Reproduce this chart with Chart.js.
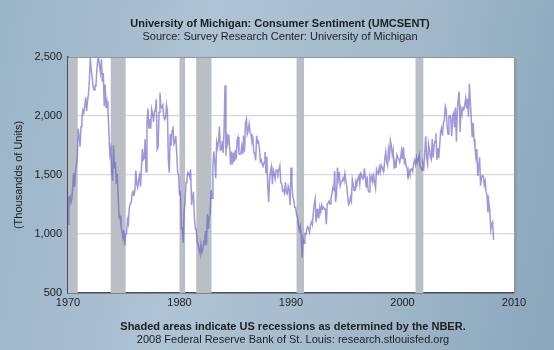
<!DOCTYPE html>
<html>
<head>
<meta charset="utf-8">
<script src="https://cdn.jsdelivr.net/npm/chart.js@4.4.1/dist/chart.umd.min.js"></script>
<style>
  html, body { margin: 0; padding: 0; }
  body {
    width: 554px; height: 350px; overflow: hidden;
    background: linear-gradient(100deg, #9ab4c8 0%, #aec3d3 35%, #a4bbcc 65%, #8aa6bc 100%);
  }
  #wrap { position: relative; width: 554px; height: 350px; }
</style>
</head>
<body>
<div id="wrap"><canvas id="chart" width="554" height="350"></canvas></div>
<script>
// texts
const TITLE = 'University of Michigan: Consumer Sentiment (UMCSENT)';
const SUBTITLE = 'Source: Survey Research Center: University of Michigan';
const Y_TITLE = '(Thousandds of Units)';
const NOTE = 'Shaded areas indicate US recessions as determined by the NBER.';
const CREDIT = '2008 Federal Reserve Bank of St. Louis: research.stlouisfed.org';

// axes
const X_TICKS = [1970, 1980, 1990, 2000, 2010];
const Y_TICKS = [500, 1000, 1500, 2000, 2500];

// recessions (decimal years)
const recessions = [
  [1969.92, 1970.87], [1973.83, 1975.17], [1980.0, 1980.5],
  [1981.5, 1982.87], [1990.5, 1991.17], [2001.17, 2001.87]
];

// monthly values, thousands of units, from Jan 1970
const START_YEAR = 1970;
const v1970s = [
  1085, 1305, 1319, 1264, 1290, 1385, 1517, 1399, 1534, 1580, 1647, 1893,
  1828, 1741, 1910, 1986, 2049, 2026, 2083, 2158, 2041, 2128, 2182, 2295,
  2494, 2390, 2334, 2249, 2221, 2254, 2252, 2382, 2481, 2485, 2421, 2366,
  2481, 2289, 2365, 2084, 2266, 2067, 2123, 2051, 1874, 1677, 1724, 1526,
  1451, 1752, 1555, 1607, 1426, 1513, 1316, 1142, 1150, 1070, 1026, 975,
  1032, 904, 993, 1005, 1121, 1087, 1226, 1260, 1264, 1344, 1360, 1321,
  1367, 1538, 1421, 1395, 1459, 1495, 1401, 1550, 1720, 1629, 1641, 1804,
  1527, 1943, 2063, 1892, 1971, 1893, 2058, 2020, 1949, 2042, 2042, 2142,
  1718, 1738, 2032, 2197, 2075, 2070, 2092, 1996, 1970, 1981, 2094, 2044,
  1630, 1520, 1847, 1748, 1876, 1913, 1760, 1778, 1832, 1681, 1524, 1498
];
const v1980s = [
  1341, 1350, 1047, 1051, 927, 1196, 1269, 1436, 1471, 1523, 1510, 1482,
  1547, 1246, 1306, 1360, 1140, 1045, 1041, 940, 911, 873, 837, 910,
  843, 866, 931, 917, 1025, 902, 1166, 1046, 1144, 1173, 1372, 1303,
  1586, 1699, 1606, 1472, 1776, 1733, 1785, 1910, 1710, 1715, 1785, 1688,
  1897, 2260, 1663, 1851, 1774, 1843, 1732, 1586, 1698, 1590, 1689, 1612,
  1711, 1632, 1800, 1821, 1680, 1676, 1684, 1743, 1676, 1834, 1698, 1942,
  1972, 1848, 1876, 1933, 1854, 1847, 1782, 1807, 1687, 1681, 1623, 1833,
  1774, 1784, 1726, 1614, 1628, 1594, 1575, 1605, 1695, 1515, 1656, 1400,
  1271, 1473, 1532, 1573, 1421, 1541, 1509, 1468, 1542, 1542, 1514, 1548,
  1580, 1435, 1427, 1365, 1373, 1346, 1437, 1350, 1340, 1404, 1374, 1243
];
const v1990s = [
  1564, 1430, 1309, 1286, 1227, 1222, 1164, 1143, 1076, 1032, 1065, 986,
  798, 965, 921, 1001, 996, 1036, 1063, 1049, 1015, 1079, 1103, 1079,
  1176, 1250, 1297, 1099, 1214, 1145, 1139, 1226, 1186, 1244, 1214, 1227,
  1210, 1210, 1083, 1258, 1260, 1280, 1254, 1300, 1343, 1392, 1376, 1533,
  1272, 1337, 1564, 1465, 1526, 1409, 1439, 1450, 1474, 1450, 1511, 1455,
  1407, 1316, 1249, 1267, 1314, 1281, 1461, 1416, 1369, 1369, 1452, 1431,
  1467, 1491, 1424, 1516, 1504, 1467, 1472, 1557, 1475, 1392, 1489, 1370,
  1355, 1486, 1457, 1492, 1442, 1494, 1437, 1390, 1546, 1520, 1510, 1566,
  1525, 1584, 1567, 1540, 1536, 1641, 1698, 1614, 1582, 1715, 1660, 1792,
  1748, 1670, 1710, 1553, 1611, 1559, 1669, 1648, 1635, 1608, 1648, 1708
];
const v2000s = [
  1636, 1737, 1604, 1626, 1575, 1559, 1463, 1541, 1507, 1549, 1551, 1532,
  1600, 1625, 1590, 1649, 1605, 1636, 1670, 1567, 1562, 1540, 1602, 1568,
  1698, 1829, 1642, 1592, 1764, 1717, 1655, 1633, 1804, 1648, 1753, 1788,
  1853, 1629, 1726, 1643, 1751, 1867, 1897, 1833, 1939, 1967, 2083, 2057,
  1911, 1846, 1998, 2003, 1981, 1828, 2002, 2024, 1905, 2072, 1782, 2042,
  2144, 2207, 1864, 2061, 2025, 2068, 2054, 2095, 2151, 2065, 2147, 1994,
  2273, 2119, 1969, 1821, 1942, 1802, 1737, 1650, 1720, 1491, 1570, 1649,
  1409, 1480, 1495, 1490, 1415, 1448, 1354, 1330, 1183, 1264, 1197, 1037,
  1084, 1103, 950
];

const values = [...v1970s, ...v1980s, ...v1990s, ...v2000s];
const points = values.map((v, i) => ({ x: START_YEAR + i / 12, y: v }));

const FONT = '"Liberation Sans", Arial, sans-serif';
const TEXT_COLOR = '#1e1e1e';

// recession bars + frame + texts
const decor = {
  id: 'decor',
  beforeDatasetsDraw(chart) {
    const { ctx, chartArea: a, scales: { x } } = chart;
    ctx.save();
    ctx.fillStyle = '#babfc5';
    for (const [s, e] of recessions) {
      const x0 = Math.max(a.left, x.getPixelForValue(s));
      const x1 = Math.min(a.right, x.getPixelForValue(e));
      ctx.fillRect(x0, a.top, x1 - x0, a.bottom - a.top);
    }
    ctx.restore();
  },
  afterDraw(chart) {
    const { ctx, chartArea: a } = chart;
    ctx.save();
    // right / top frame
    ctx.strokeStyle = '#8f969c';
    ctx.lineWidth = 1;
    ctx.beginPath();
    ctx.moveTo(a.left, a.top + 0.5);
    ctx.lineTo(a.right + 0.5, a.top + 0.5);
    ctx.lineTo(a.right + 0.5, a.bottom);
    ctx.stroke();
    ctx.strokeStyle = 'rgba(60,80,100,0.25)';
    ctx.beginPath();
    ctx.moveTo(a.right + 2, a.top + 2);
    ctx.lineTo(a.right + 2, a.bottom);
    ctx.stroke();

    ctx.fillStyle = TEXT_COLOR;
    ctx.textAlign = 'center';
    ctx.textBaseline = 'middle';
    ctx.font = 'bold 11px ' + FONT;
    ctx.fillText(TITLE, 280, 24);
    ctx.font = '11px ' + FONT;
    ctx.fillText(SUBTITLE, 280, 37);

    ctx.font = 'bold 11px ' + FONT;
    ctx.fillText(NOTE, 293, 327);
    ctx.font = '11px ' + FONT;
    ctx.fillText(CREDIT, 293, 340);

    ctx.translate(19, 175);
    ctx.rotate(-Math.PI / 2);
    ctx.fillText(Y_TITLE, 0, 0);
    ctx.restore();
  }
};

const chart = new Chart(document.getElementById('chart'), {
  type: 'line',
  data: {
    datasets: [{
      data: points,
      borderColor: 'rgba(98, 88, 196, 0.62)',
      borderWidth: 1.5,
      pointRadius: 0,
      tension: 0
    }]
  },
  options: {
    responsive: false,
    animation: false,
    events: [],
    layout: { padding: { top: 57, right: 40, left: 0, bottom: 0 } },
    plugins: { legend: { display: false }, tooltip: { enabled: false } },
    scales: {
      x: {
        type: 'linear', min: 1970, max: 2010,
        afterFit(s) { s.height = 57; },
        afterBuildTicks(s) { s.ticks = X_TICKS.map(v => ({ value: v })); },
        grid: { display: true, drawOnChartArea: false, tickLength: 0 },
        border: { color: '#4a4f55', width: 1.5 },
        ticks: {
          color: TEXT_COLOR, font: { family: FONT, size: 11 }, padding: 3,
          maxRotation: 0, callback: v => String(v)
        }
      },
      y: {
        min: 500, max: 2500,
        afterFit(s) { s.width = 68; },
        afterBuildTicks(s) { s.ticks = Y_TICKS.map(v => ({ value: v })); },
        grid: {
          color: c => (c.tick && (c.tick.value === 500 || c.tick.value === 2500)) ? 'rgba(0,0,0,0)' : '#d9d9d9',
          lineWidth: 1.2, tickLength: 0
        },
        border: { color: '#4a4f55', width: 1.5 },
        ticks: {
          color: TEXT_COLOR, font: { family: FONT, size: 11 }, padding: 6,
          callback: v => v.toLocaleString('en-US')
        }
      }
    }
  },
  plugins: [decor, {
    id: 'bg',
    beforeDraw(c) {
      const { ctx, chartArea: a } = c;
      ctx.save();
      ctx.fillStyle = '#ffffff';
      ctx.fillRect(a.left, a.top, a.right - a.left, a.bottom - a.top);
      ctx.restore();
    }
  }]
});
</script>
</body>
</html>
